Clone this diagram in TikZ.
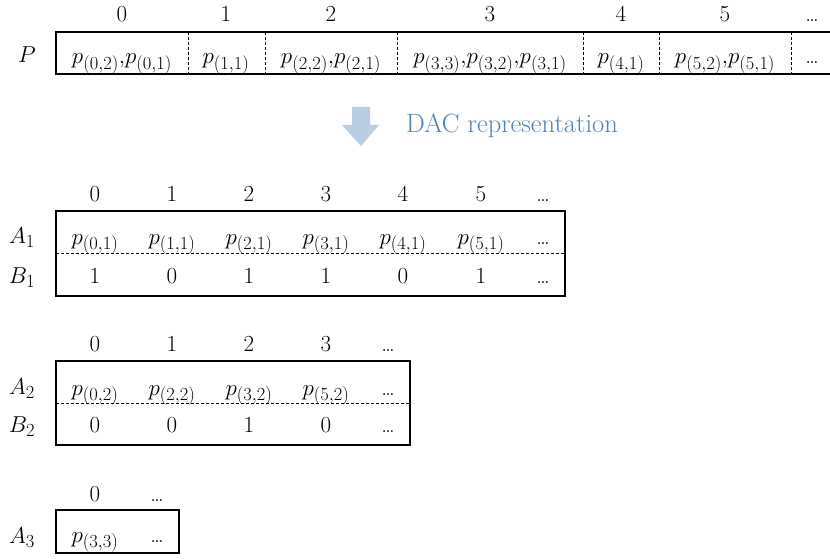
\RequirePackage{fix-cm}
\documentclass[tikz,border=0pt]{standalone}
\usepackage{fontspec}
\DeclareMathSizes{23}{23}{18.5}{14}
\definecolor{dacblue}{RGB}{79,129,189}
\definecolor{arrowblue}{RGB}{185,205,229}
\begin{document}
\begin{tikzpicture}[x=1pt,y=-1pt,font=\fontsize{23}{27}\selectfont,
  lbl/.style={anchor=base,inner sep=0pt},
  frame/.style={draw,line width=1.1pt},
  sepline/.style={line width=0.8pt,dash pattern=on 3pt off 2pt}]
\useasboundingbox (0,0) rectangle (830,559);

% ---------- top array P ----------
\draw[frame] (834,32) -- (56,32) -- (56,74) -- (834,74);
\foreach \x in {188,265,397,583,659,791}
  \draw[sepline] (\x,32) -- (\x,74);
\node[lbl] (Plbl) at (27,63) {$P$};
\foreach \x/\t [count=\i] in {122/0,226/1,331/2,490/3,621/4,725/5,812/\ldots}
  \node[lbl] (ph\i) at (\x,22) {\t};
\node[lbl] (pc1) at (122,64) {$p_{(0,2)}{,}p_{(0,1)}$};
\node[lbl] (pc2) at (226,64) {$p_{(1,1)}$};
\node[lbl] (pc3) at (331,64) {$p_{(2,2)}{,}p_{(2,1)}$};
\node[lbl] (pc4) at (490,64) {$p_{(3,3)}{,}p_{(3,2)}{,}p_{(3,1)}$};
\node[lbl] (pc5) at (621,64) {$p_{(4,1)}$};
\node[lbl] (pc6) at (725,64) {$p_{(5,2)}{,}p_{(5,1)}$};
\node[lbl] (pc7) at (812,64) {\ldots};

% ---------- arrow ----------
\fill[arrowblue] (352,107) -- (370,107) -- (370,125) -- (379,125) -- (361,146)
  -- (342,125) -- (352,125) -- cycle;
\node[anchor=base west,inner sep=0pt,text=dacblue,font=\fontsize{26.5}{30}\selectfont]
  (dac) at (406,133) {DAC representation};

% ---------- level 1 ----------
\draw[frame] (56,211) rectangle (565,296);
\draw[sepline] (56,253) -- (565,253);
\node[lbl] (A1) at (22,243) {$A_1$};
\node[lbl] (B1) at (22,283) {$B_1$};
\foreach \x/\h/\a/\b [count=\i] in {95/0/{$p_{(0,1)}$}/1,172/1/{$p_{(1,1)}$}/0,
   249/2/{$p_{(2,1)}$}/1,326/3/{$p_{(3,1)}$}/1,403/4/{$p_{(4,1)}$}/0,
   481/5/{$p_{(5,1)}$}/1,543/\ldots/\ldots/\ldots}{
  \node[lbl] (ah\i) at (\x,201) {\h};
  \node[lbl] (aa\i) at (\x,244) {\a};
  \node[lbl] (ab\i) at (\x,283) {\b};
}

% ---------- level 2 ----------
\draw[frame] (56,361) rectangle (410,445);
\draw[sepline] (56,403) -- (410,403);
\node[lbl] (A2) at (22,394) {$A_2$};
\node[lbl] (B2) at (22,432) {$B_2$};
\foreach \x/\h/\a/\b [count=\i] in {95/0/{$p_{(0,2)}$}/0,172/1/{$p_{(2,2)}$}/0,
   249/2/{$p_{(3,2)}$}/1,326/3/{$p_{(5,2)}$}/0,388/\ldots/\ldots/\ldots}{
  \node[lbl] (bh\i) at (\x,351) {\h};
  \node[lbl] (ba\i) at (\x,395) {\a};
  \node[lbl] (bb\i) at (\x,432) {\b};
}

% ---------- level 3 ----------
\draw[frame] (56,510) rectangle (179,553);
\node[lbl] (A3) at (22,543) {$A_3$};
\node[lbl] (ch1) at (95,501) {0};
\node[lbl] (ch2) at (157,501) {\ldots};
\node[lbl] (ca1) at (95,542) {$p_{(3,3)}$};
\node[lbl] (ca2) at (157,542) {\ldots};
\end{tikzpicture}
\end{document}
